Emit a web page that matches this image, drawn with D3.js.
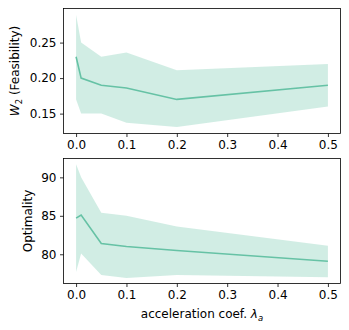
<!DOCTYPE html>
<html><head><meta charset="utf-8">
<script src="https://cdn.jsdelivr.net/npm/d3@7"></script>
<style>body{margin:0;background:#fff}svg{display:block}</style>
</head><body>
<svg id="c" width="349" height="330"></svg>
<script>
const xs = [0, 0.01, 0.05, 0.1, 0.2, 0.5];
const feasMean = [0.230, 0.200, 0.190, 0.186, 0.170, 0.190];
const feasUpper = [0.289, 0.250, 0.230, 0.236, 0.211, 0.220];
const feasLower = [0.170, 0.150, 0.150, 0.137, 0.131, 0.160];
const optMean = [84.7, 85.1, 81.4, 81.0, 80.5, 79.1];
const optUpper = [91.7, 90.0, 85.4, 85.0, 83.6, 81.1];
const optLower = [77.7, 80.1, 77.3, 76.9, 77.3, 77.0];
const xTicks = [0, 0.1, 0.2, 0.3, 0.4, 0.5];
const feasTicks = [0.15, 0.20, 0.25];
const optTicks = [80, 85, 90];

const color = "#66c2a5";
const font = "DejaVu Sans, sans-serif";
const svg = d3.select("#c");
const L = 63.5, R = 340.5;
const x = d3.scaleLinear().domain([-0.025, 0.525]).range([L, R]);

function panel(top, bottom, mean, upper, lower, yDomain, yTicks, fmt, ylabel, isW2) {
  const y = d3.scaleLinear().domain(yDomain).range([bottom, top]);
  const g = svg.append("g");
  const data = xs.map((v, i) => ({x: v, m: mean[i], u: upper[i], l: lower[i]}));
  g.append("path").datum(data)
    .attr("d", d3.area().x(d => x(d.x)).y0(d => y(d.l)).y1(d => y(d.u)))
    .attr("fill", color).attr("fill-opacity", 0.3).attr("stroke", "none");
  g.append("path").datum(data)
    .attr("d", d3.line().x(d => x(d.x)).y(d => y(d.m)))
    .attr("fill", "none").attr("stroke", color).attr("stroke-width", 1.6);
  const xa = g.append("g").attr("transform", `translate(0,${bottom})`)
    .call(d3.axisBottom(x).tickValues(xTicks).tickFormat(d3.format(".1f")).tickSize(3.5).tickPadding(3.5));
  const ya = g.append("g").attr("transform", `translate(${L},0)`)
    .call(d3.axisLeft(y).tickValues(yTicks).tickFormat(fmt).tickSize(3.5).tickPadding(3.5));
  [xa, ya].forEach(a => {
    a.select(".domain").remove();
    a.selectAll("text").attr("font-family", font).attr("font-size", 12).attr("fill", "#000");
    a.selectAll("line").attr("stroke", "#000").attr("stroke-width", 0.8);
  });
  g.append("rect").attr("x", L).attr("y", top).attr("width", R - L).attr("height", bottom - top)
    .attr("fill", "none").attr("stroke", "#000").attr("stroke-width", 0.8);
  const t = g.append("text").attr("transform", `translate(${isW2 ? 19 : 32},${(top + bottom) / 2}) rotate(-90)`)
    .attr("text-anchor", "middle").attr("font-family", font).attr("font-size", 12).attr("fill", "#000");
  if (isW2) {
    t.append("tspan").attr("font-style", "italic").text("W");
    t.append("tspan").attr("font-size", 8.5).attr("dy", 3).text("2");
    t.append("tspan").attr("dy", -3).text(" (Feasibility)");
  } else {
    t.text(ylabel);
  }
  return y;
}

panel(8.5, 133.5, feasMean, feasUpper, feasLower, [0.122, 0.298], feasTicks, d3.format(".2f"), "", true);
panel(158.5, 283.5, optMean, optUpper, optLower, [76.2, 92.45], optTicks, d3.format("d"), "Optimality", false);

const xl = svg.append("text").attr("x", (L + R) / 2).attr("y", 318)
  .attr("text-anchor", "middle").attr("font-family", font).attr("font-size", 12).attr("fill", "#000");
xl.append("tspan").text("acceleration coef. ");
xl.append("tspan").attr("font-style", "italic").text("λ");
xl.append("tspan").attr("font-style", "italic").attr("font-size", 8.5).attr("dy", 3).text("a");
</script>
</body></html>
